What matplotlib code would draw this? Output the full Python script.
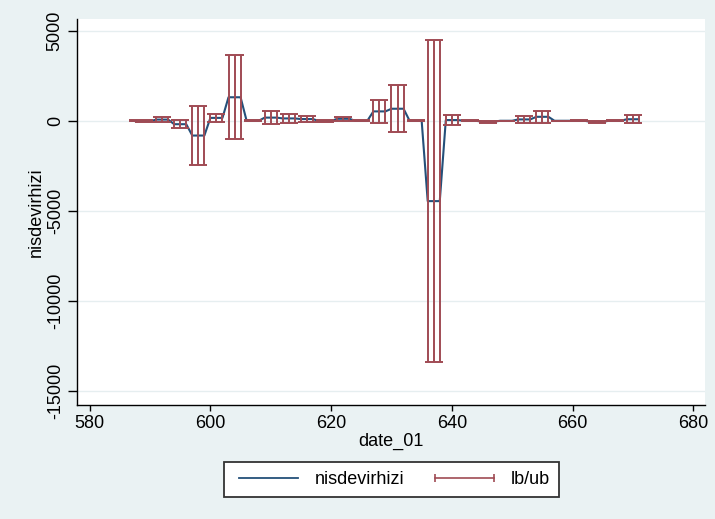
import numpy as np
import matplotlib
matplotlib.use("Agg")
import matplotlib.pyplot as plt
from matplotlib.lines import Line2D

plt.rcParams['font.family'] = ['Liberation Sans', 'DejaVu Sans']

# Monthly Stata dates (587 = 2008m12 ... 671 = 2015m12)
date_01 = np.arange(587, 672)

# Estimated turnover-rate change and its confidence bounds, month by month
nisdevirhizi = [
    0,
    -30, -30, -30,
    65, 65, 65,
    -190, -190, -190,
    -820, -820, -820,
    160, 160, 160,
    1305, 1305, 1305,
    0, 0, 0,
    175, 175, 175,
    130, 130, 130,
    95, 95, 95,
    -20, -20, -20,
    110, 110, 110,
    0, 0, 0,
    520, 520, 520,
    668, 668, 668,
    0, 0, 0,
    -4460, -4460, -4460,
    40, 40, 40,
    0, 0, 0,
    -50, -50, -50,
    0, 0, 0,
    75, 75, 75,
    220, 220, 220,
    0, 0, 0,
    0, 0, 0,
    -60, -60, -60,
    0, 0, 0,
    85, 85, 85,
]

lb = [
    -25,
    -90, -90, -90,
    -90, -90, -90,
    -420, -420, -420,
    -2455, -2455, -2455,
    -80, -80, -80,
    -1030, -1030, -1030,
    -25, -25, -25,
    -200, -200, -200,
    -110, -110, -110,
    -90, -90, -90,
    -80, -80, -80,
    0, 0, 0,
    -25, -25, -25,
    -110, -110, -110,
    -645, -645, -645,
    -25, -25, -25,
    -13400, -13400, -13400,
    -240, -240, -240,
    -25, -25, -25,
    -110, -110, -110,
    0, 0, 0,
    -110, -110, -110,
    -110, -110, -110,
    0, 0, 0,
    -25, -25, -25,
    -120, -120, -120,
    -25, -25, -25,
    -145, -145, -145,
]

ub = [
    25,
    30, 30, 30,
    220, 220, 220,
    40, 40, 40,
    815, 815, 815,
    400, 400, 400,
    3640, 3640, 3640,
    25, 25, 25,
    550, 550, 550,
    370, 370, 370,
    280, 280, 280,
    40, 40, 40,
    220, 220, 220,
    25, 25, 25,
    1150, 1150, 1150,
    1980, 1980, 1980,
    25, 25, 25,
    4480, 4480, 4480,
    320, 320, 320,
    25, 25, 25,
    10, 10, 10,
    0, 0, 0,
    260, 260, 260,
    550, 550, 550,
    0, 0, 0,
    25, 25, 25,
    0, 0, 0,
    25, 25, 25,
    315, 315, 315,
]

x_ticks = [580, 600, 620, 640, 660, 680]
y_ticks = [-15000, -10000, -5000, 0, 5000]

NAVY = '#24507A'
MAROON = '#A04B54'
BG = '#EAF2F3'

W, H = 715, 519
fig = plt.figure(figsize=(W / 100, H / 100), dpi=100, facecolor=BG)
ax = fig.add_axes([77 / W, 1 - 405 / H, (705 - 77) / W, (405 - 19) / H])
ax.set_facecolor('white')

x = np.asarray(date_01, dtype=float)
ax.plot(x, nisdevirhizi, color=NAVY, lw=1.5, zorder=2)
ax.vlines(x, lb, ub, color=MAROON, lw=1.4, zorder=3)
ax.hlines(lb, x - 0.5, x + 0.5, color=MAROON, lw=1.4, zorder=3)
ax.hlines(ub, x - 0.5, x + 0.5, color=MAROON, lw=1.4, zorder=3)

ax.set_xlim(577.9, 681.94)
ax.set_ylim(-15777, 5649)
ax.set_xticks(x_ticks)
ax.set_yticks(y_ticks)
ax.set_yticklabels([str(v) for v in y_ticks], rotation=90, va='center')

ax.yaxis.grid(True, color='#E6EEF0', lw=1.0, zorder=0)
ax.set_axisbelow(True)

for side in ('top', 'right'):
    ax.spines[side].set_visible(False)
for side in ('left', 'bottom'):
    ax.spines[side].set_color('black')
    ax.spines[side].set_linewidth(1.0)

ax.tick_params(axis='y', length=6.5, width=1.0, pad=3, labelsize=13, colors='black')
ax.tick_params(axis='x', length=4.5, width=1.0, pad=3, labelsize=13, colors='black')

ax.set_ylabel('nisdevirhizi', fontsize=13)
ax.yaxis.set_label_coords((45 - 77) / 628, 0.5)
ax.set_xlabel('date_01', fontsize=13)
ax.xaxis.set_label_coords(0.5, (405 - 433) / 386)

handles = [
    Line2D([], [], color=NAVY, lw=1.3),
    Line2D([], [], color=MAROON, lw=1.2, marker='|', markersize=6,
           markeredgewidth=1.2),
]
leg = fig.legend(handles, ['nisdevirhizi', 'lb/ub'], loc='center',
                 bbox_to_anchor=(391.5 / W, 1 - 479.5 / H), ncol=2,
                 fontsize=13, numpoints=2, frameon=True, fancybox=False,
                 edgecolor='#333333', facecolor='white', framealpha=1,
                 handlelength=3.9, handletextpad=0.6, columnspacing=1.4,
                 borderpad=0.5, borderaxespad=0)
leg.get_frame().set_linewidth(1.3)

fig.savefig('out.png', dpi=100, facecolor=BG)
